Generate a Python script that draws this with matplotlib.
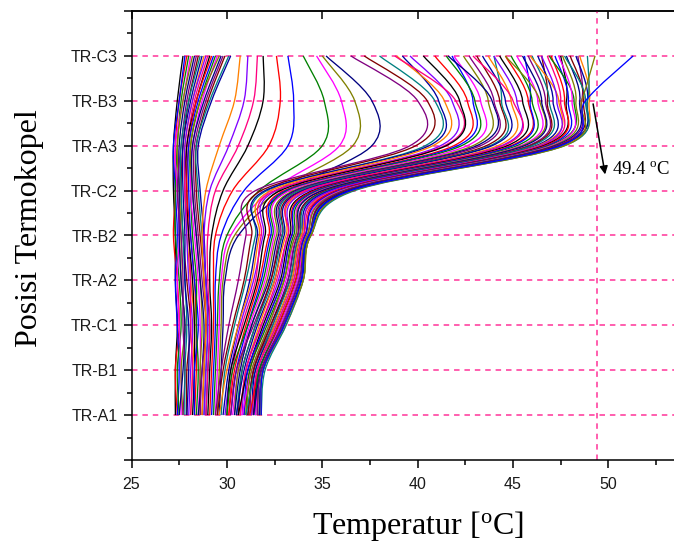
import matplotlib
matplotlib.use("Agg")
import matplotlib.pyplot as plt
from matplotlib.path import Path
from matplotlib.patches import PathPatch
from matplotlib.ticker import MultipleLocator, FixedLocator

# thermocouple positions, bottom to top
positions = ["TR-A1", "TR-B1", "TR-C1", "TR-A2", "TR-B2",
             "TR-C2", "TR-A3", "TR-B3", "TR-C3"]
levels = [1, 2, 3, 4, 5, 6, 7, 8, 9]

# temperature profiles (degC), one list per time step, ordered A1 ... C3
cold_profiles = [
    [27.3, 27.3, 27.4, 27.3, 27.3, 27.2, 27.2, 27.4, 27.7],
    [27.4, 27.3, 27.5, 27.4, 27.2, 27.3, 27.3, 27.5, 27.9],
    [27.4, 27.5, 27.4, 27.3, 27.4, 27.3, 27.2, 27.5, 27.8],
    [27.5, 27.4, 27.6, 27.5, 27.3, 27.3, 27.4, 27.6, 28.0],
    [27.6, 27.6, 27.5, 27.4, 27.5, 27.4, 27.3, 27.7, 28.1],
    [27.7, 27.6, 27.8, 27.6, 27.6, 27.5, 27.4, 27.7, 28.2],
    [27.5, 27.7, 27.8, 27.6, 27.5, 27.5, 27.5, 27.8, 28.3],
    [27.7, 27.8, 27.7, 27.7, 27.6, 27.4, 27.6, 27.9, 28.4],
    [27.9, 27.9, 28.1, 27.9, 27.7, 27.6, 27.7, 28.0, 28.5],
    [27.8, 27.8, 27.9, 27.8, 27.7, 27.6, 27.6, 28.0, 28.6],
    [27.9, 28.0, 28.0, 27.8, 27.8, 27.7, 27.7, 28.1, 28.7],
    [28.1, 28.2, 28.3, 28.1, 27.9, 27.8, 27.8, 28.2, 28.8],
    [28.0, 28.1, 28.2, 28.0, 27.9, 27.8, 27.8, 28.2, 28.9],
    [28.1, 28.2, 28.1, 28.1, 28.0, 27.8, 27.9, 28.3, 29.0],
    [28.2, 28.3, 28.3, 28.2, 28.0, 27.9, 27.9, 28.4, 29.1],
    [28.3, 28.4, 28.4, 28.3, 28.1, 27.9, 28.0, 28.4, 29.2],
    [28.3, 28.3, 28.5, 28.3, 28.1, 28.0, 28.0, 28.5, 29.3],
    [28.4, 28.5, 28.4, 28.4, 28.2, 28.1, 28.1, 28.6, 29.4],
    [28.5, 28.6, 28.6, 28.5, 28.3, 28.1, 28.2, 28.7, 29.5],
    [28.6, 28.6, 28.7, 28.6, 28.4, 28.2, 28.1, 28.6, 29.6],
    [28.5, 28.7, 28.8, 28.6, 28.4, 28.2, 28.2, 28.8, 29.7],
    [28.6, 28.7, 28.9, 28.7, 28.5, 28.3, 28.3, 28.9, 29.8],
    [28.7, 28.8, 28.9, 28.8, 28.6, 28.4, 28.4, 29.0, 29.9],
    [28.8, 28.9, 29.0, 28.9, 28.7, 28.5, 28.4, 29.1, 30.1],
    [28.9, 29.0, 29.1, 28.9, 28.8, 28.6, 28.5, 29.2, 30.2],
]

transition_profiles = [
    [28.7, 28.8, 28.9, 28.8, 28.7, 28.9, 29.6, 30.4, 30.7],
    [28.8, 28.9, 29.0, 28.9, 28.8, 29.1, 30.1, 30.9, 31.1],
    [28.9, 29.0, 29.1, 29.0, 29.0, 29.4, 30.6, 31.4, 31.6],
    [29.0, 29.1, 29.2, 29.1, 29.2, 29.8, 31.1, 31.9, 31.9],
    [29.1, 29.2, 29.3, 29.3, 29.4, 30.3, 32.2, 32.8, 32.6],
    [29.2, 29.3, 29.4, 29.4, 29.7, 30.9, 33.2, 33.5, 33.2],
    [29.3, 29.4, 29.5, 29.6, 30.0, 31.7, 35.0, 35.1, 34.0],
    [29.4, 29.5, 29.6, 29.7, 30.2, 32.3, 35.9, 36.0, 34.7],
    [29.5, 29.6, 29.7, 29.8, 30.4, 32.7, 36.6, 36.7, 35.0],
    [29.6, 29.7, 29.8, 29.9, 30.6, 33.2, 37.6, 37.6, 35.2],
]

hot_profiles = [
    [29.4, 29.7, 30.1, 30.6, 31.0, 31.5, 39.6, 40.0, 36.5],
    [29.5, 29.8, 30.3, 30.9, 31.3, 31.8, 39.9, 40.5, 37.2],
    [29.7, 29.9, 30.4, 31.0, 31.5, 32.1, 40.4, 40.9, 38.0],
    [29.8, 30.1, 30.6, 31.2, 31.6, 32.0, 40.6, 41.1, 39.2],
    [29.6, 30.0, 30.6, 31.3, 31.7, 32.3, 40.8, 41.4, 38.9],
    [29.9, 30.2, 30.7, 31.4, 31.9, 32.6, 41.2, 41.8, 39.6],
    [30.1, 30.3, 30.8, 31.5, 31.8, 32.5, 41.4, 42.0, 38.8],
    [30.0, 30.2, 30.9, 31.6, 32.0, 32.8, 41.5, 42.2, 40.3],
    [30.1, 30.4, 31.0, 31.7, 32.2, 33.0, 41.9, 42.6, 40.9],
    [30.2, 30.5, 31.1, 31.8, 32.3, 33.1, 42.1, 42.9, 41.8],
    [30.0, 30.3, 31.1, 31.9, 32.4, 33.2, 42.3, 43.0, 41.5],
    [30.3, 30.6, 31.2, 32.0, 32.5, 33.3, 42.6, 43.3, 41.9],
    [30.4, 30.6, 31.3, 32.1, 32.6, 33.5, 42.9, 43.7, 42.4],
    [30.4, 30.7, 31.3, 32.2, 32.7, 33.6, 43.1, 43.9, 41.6],
    [30.2, 30.5, 31.4, 32.3, 32.8, 33.7, 43.3, 44.0, 42.7],
    [30.6, 30.8, 31.5, 32.3, 32.9, 33.9, 43.6, 44.3, 43.1],
    [30.5, 30.8, 31.5, 32.4, 32.9, 33.8, 43.8, 44.4, 44.0],
    [30.5, 30.9, 31.6, 32.5, 33.0, 34.0, 43.9, 44.6, 43.4],
    [30.7, 31.0, 31.7, 32.5, 33.1, 34.2, 44.2, 44.9, 43.7],
    [30.8, 31.0, 31.8, 32.7, 33.2, 34.3, 44.4, 45.2, 44.0],
    [30.7, 31.0, 31.8, 32.6, 33.2, 34.1, 44.5, 45.0, 42.9],
    [30.6, 31.1, 31.9, 32.8, 33.3, 34.5, 44.7, 45.5, 44.3],
    [30.9, 31.2, 32.0, 32.9, 33.4, 34.6, 44.9, 45.8, 44.6],
    [30.9, 31.1, 32.0, 32.9, 33.4, 34.7, 45.0, 45.9, 45.6],
    [31.0, 31.2, 32.1, 33.0, 33.5, 34.8, 45.2, 46.0, 44.9],
    [30.8, 31.3, 32.2, 33.1, 33.6, 34.9, 45.4, 46.3, 45.2],
    [31.0, 31.3, 32.2, 33.0, 33.6, 35.0, 45.5, 46.4, 44.6],
    [31.1, 31.4, 32.3, 33.2, 33.7, 35.0, 45.6, 46.5, 45.5],
    [31.2, 31.4, 32.4, 33.2, 33.7, 35.2, 45.8, 46.7, 45.8],
    [31.1, 31.4, 32.3, 33.3, 33.8, 35.2, 45.9, 46.8, 46.5],
    [31.0, 31.5, 32.4, 33.3, 33.8, 35.3, 46.0, 46.9, 46.0],
    [31.3, 31.5, 32.5, 33.4, 33.9, 35.4, 46.2, 47.1, 46.3],
    [31.3, 31.6, 32.5, 33.4, 33.9, 35.6, 46.3, 47.4, 45.9],
    [31.3, 31.6, 32.6, 33.5, 34.0, 35.5, 46.4, 47.3, 46.5],
    [31.4, 31.6, 32.6, 33.5, 34.0, 35.7, 46.5, 47.5, 46.8],
    [31.4, 31.7, 32.7, 33.6, 34.1, 35.8, 46.6, 47.8, 47.5],
    [31.2, 31.7, 32.7, 33.6, 34.1, 35.8, 46.7, 47.7, 47.0],
    [31.5, 31.7, 32.8, 33.7, 34.1, 35.9, 46.8, 47.9, 47.2],
    [31.5, 31.7, 32.8, 33.7, 34.2, 36.0, 46.9, 48.2, 46.9],
    [31.5, 31.8, 32.8, 33.7, 34.2, 36.0, 47.0, 48.1, 47.4],
    [31.6, 31.8, 32.9, 33.8, 34.2, 36.1, 47.1, 48.3, 47.6],
    [31.4, 31.8, 32.9, 33.8, 34.3, 36.2, 47.2, 48.5, 47.8],
    [31.6, 31.8, 32.9, 33.8, 34.3, 36.2, 47.3, 48.6, 48.4],
    [31.7, 31.9, 33.0, 33.9, 34.3, 36.3, 47.4, 48.7, 48.0],
    [31.7, 31.9, 33.0, 33.9, 34.3, 36.4, 47.5, 48.8, 47.7],
    [31.7, 31.9, 33.0, 33.9, 34.4, 36.4, 47.5, 48.9, 48.3],
    [31.8, 31.9, 33.1, 34.0, 34.4, 36.6, 47.6, 49.0, 48.5],
]

# last profiles, where the top thermocouple overtakes the others
late_profiles = [
    [31.8, 32.0, 33.1, 34.0, 34.4, 36.7, 47.7, 48.9, 48.9],
    [31.8, 31.9, 33.0, 34.0, 34.4, 36.6, 47.7, 48.6, 49.3],
    [31.8, 31.9, 33.0, 33.9, 34.3, 36.5, 47.5, 48.8, 51.3],
]
late_colors = ["#008080", "#808000", "#0000FF"]

peak_temp = 49.4

origin_colors = ["#000000", "#FF0000", "#0000FF", "#008000", "#FF00FF",
                 "#808000", "#000080", "#800080", "#800000", "#008080",
                 "#0000A0", "#FF8000", "#8000FF", "#FF0080"]
grid_pink = "#FF3399"


def spline_path(temps, ys):
    # smooth curve through the measured points (cubic Bezier segments)
    pts = list(zip(temps, ys))
    verts = [pts[0]]
    codes = [Path.MOVETO]
    n = len(pts)
    for i in range(n - 1):
        p0 = pts[i - 1] if i > 0 else pts[i]
        p1 = pts[i]
        p2 = pts[i + 1]
        p3 = pts[i + 2] if i + 2 < n else pts[i + 1]
        c1 = (p1[0] + (p2[0] - p0[0]) / 6, p1[1] + (p2[1] - p0[1]) / 6)
        c2 = (p2[0] - (p3[0] - p1[0]) / 6, p2[1] - (p3[1] - p1[1]) / 6)
        verts += [c1, c2, p2]
        codes += [Path.CURVE4] * 3
    return Path(verts, codes)


fig = plt.figure(figsize=(6.74, 5.45), dpi=100)
ax = fig.add_axes([131.5 / 674, 85 / 545, 542.5 / 674, 449 / 545])

# dashed reference lines
for lv in levels:
    ax.axhline(lv, color=grid_pink, lw=1.1, ls=(0, (3.6, 3.2)), zorder=1)
ax.axvline(peak_temp, color=grid_pink, lw=1.1, ls=(0, (3.6, 3.2)), zorder=1)

all_profiles = cold_profiles + transition_profiles + hot_profiles
for i, prof in enumerate(all_profiles):
    col = origin_colors[i % len(origin_colors)]
    ax.add_patch(PathPatch(spline_path(prof, levels), fill=False,
                           edgecolor=col, lw=0.95, zorder=2))
for prof, col in zip(late_profiles, late_colors):
    ax.add_patch(PathPatch(spline_path(prof, levels), fill=False,
                           edgecolor=col, lw=0.95, zorder=2))

ax.set_xlim(25, 53.44)
ax.set_ylim(0, 10)

# annotation of the peak temperature
ax.annotate("", xy=(49.83, 6.36), xytext=(49.2, 7.93),
            arrowprops=dict(arrowstyle="-|>", color="black", lw=1.1,
                            mutation_scale=12, shrinkA=0, shrinkB=0),
            zorder=5)
ax.text(50.2, 6.48, "49.4 $\\mathregular{^o}$C", fontsize=13.5,
        family="Liberation Serif", ha="left", va="center", zorder=5)

# axes styling
ax.spines["right"].set_visible(False)
for s in ["left", "bottom", "top"]:
    ax.spines[s].set_linewidth(1.1)

ax.xaxis.set_major_locator(FixedLocator([25, 30, 35, 40, 45, 50]))
ax.xaxis.set_minor_locator(FixedLocator([27.5, 32.5, 37.5, 42.5, 47.5, 52.5]))
ax.yaxis.set_major_locator(FixedLocator(list(range(0, 11))))
ax.yaxis.set_minor_locator(MultipleLocator(0.5))
ax.set_yticklabels([""] + positions + [""])

ax.tick_params(axis="both", which="major", direction="out", length=6,
               width=1.1, labelsize=11.5, pad=4)
ax.tick_params(axis="both", which="minor", direction="out", length=3.5,
               width=1.1)
ax.tick_params(axis="x", pad=6)
for lab in ax.get_xticklabels() + ax.get_yticklabels():
    lab.set_family("Liberation Sans")
    lab.set_color("#1a1a1a")

top = ax.secondary_xaxis("top")
top.set_xticks([25, 30, 35, 40, 45, 50])
top.tick_params(direction="in", length=6, width=1.1, labeltop=False)
top.spines["top"].set_linewidth(1.1)

fig.text(418 / 674, 1 - 526 / 545, "Temperatur [$\\mathregular{^o}$C]",
         fontsize=23, family="Liberation Serif", ha="center", va="center")
fig.text(30 / 674, 1 - 228 / 545, "Posisi Termokopel", fontsize=23,
         family="Liberation Serif", ha="center", va="center", rotation=90)

fig.savefig("out.png", dpi=100)
